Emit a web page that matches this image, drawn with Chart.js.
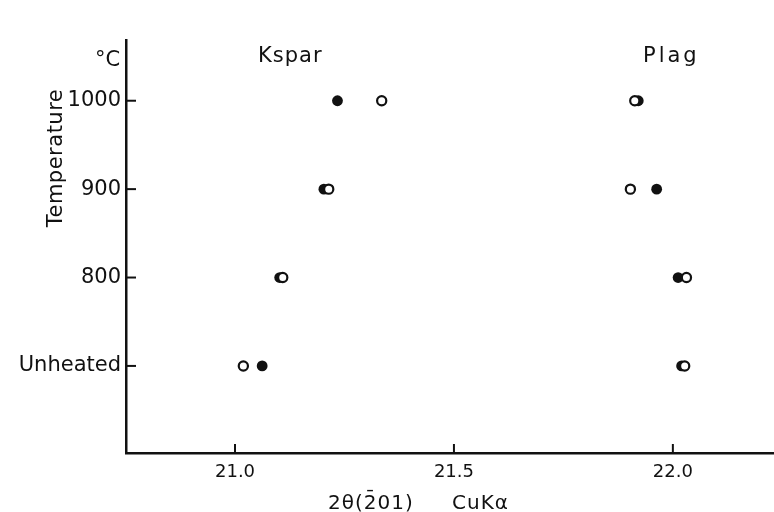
<!DOCTYPE html>
<html>
<head>
<meta charset="utf-8">
<script src="https://cdn.jsdelivr.net/npm/chart.js@4"></script>
<style>
  html, body { margin: 0; padding: 0; background: #fff; }
  #wrap { width: 774px; height: 512px; }
</style>
</head>
<body>
<div id="wrap"><canvas id="myChart" width="774" height="512"></canvas></div>
<script>
// temperature levels (700 stands for "Unheated")
var tempLevels = [1000, 900, 800, 700];
var tempLabels = ["1000", "900", "800", "Unheated"];
var xTicks = [21.0, 21.5, 22.0];

// 2θ(-201) positions, one per temperature level
var ksparFilled = [21.234, 21.203, 21.102, 21.062];
var ksparOpen   = [21.335, 21.214, 21.109, 21.019];
var plagFilled  = [21.921, 21.963, 22.012, 22.020];
var plagOpen    = [21.913, 21.903, 22.031, 22.027];

function toPoints(xs) {
    return xs.map(function (x, i) { return { x: x, y: tempLevels[i] }; });
}

var FONT = "'DejaVu Sans', sans-serif";

// draws the inward tick marks and the free text labels
var extras = {
    id: 'extras',
    afterDraw: function (chart) {
        var c = chart.ctx;
        var xs = chart.scales.x, ys = chart.scales.y;
        var a = chart.chartArea;
        c.save();
        c.strokeStyle = '#111';
        c.lineWidth = 2;
        tempLevels.forEach(function (v) {
            var p = ys.getPixelForValue(v);
            c.beginPath(); c.moveTo(a.left, p); c.lineTo(a.left + 10, p); c.stroke();
        });
        xTicks.forEach(function (v) {
            var p = xs.getPixelForValue(v);
            c.beginPath(); c.moveTo(p, a.bottom); c.lineTo(p, a.bottom - 9); c.stroke();
        });

        c.fillStyle = '#111';
        c.font = '21px ' + FONT;
        c.textBaseline = 'alphabetic';
        c.textAlign = 'left';
        c.fillText('°C', 95, 66);
        c.letterSpacing = '1px';
        c.fillText('Kspar', 258, 62);
        c.letterSpacing = '3px';
        c.fillText('Plag', 643, 62);

        c.font = '20px ' + FONT;
        c.letterSpacing = '1px';
        c.fillText('2θ(2\u0304' + '01)', 328, 509);
        c.fillText('CuKα', 452, 509);

        c.translate(57, 158);
        c.rotate(-Math.PI / 2);
        c.textAlign = 'center';
        c.textBaseline = 'middle';
        c.font = '21px ' + FONT;
        c.letterSpacing = '0.5px';
        c.fillText('Temperature', 0, 0);
        c.restore();
    }
};

new Chart(document.getElementById('myChart'), {
    type: 'scatter',
    data: {
        datasets: [
            {
                label: 'open',
                data: toPoints(ksparOpen).concat(toPoints(plagOpen)),
                pointRadius: 4.6,
                pointBackgroundColor: '#fff',
                pointBorderColor: '#111',
                pointBorderWidth: 2.2,
                order: 0
            },
            {
                label: 'filled',
                data: toPoints(ksparFilled).concat(toPoints(plagFilled)),
                pointRadius: 5.4,
                pointBackgroundColor: '#111',
                pointBorderWidth: 0,
                order: 1
            }
        ]
    },
    options: {
        responsive: false,
        animation: false,
        layout: { autoPadding: false, padding: { top: 40, left: 0, right: 0, bottom: 0 } },
        plugins: {
            legend: { display: false },
            tooltip: { enabled: false }
        },
        scales: {
            x: {
                type: 'linear',
                min: 20.751,
                max: 22.231,
                grid: { display: false, drawTicks: false },
                border: { display: true, color: '#111', width: 2.5 },
                afterBuildTicks: function (s) { s.ticks = xTicks.map(function (v) { return { value: v }; }); },
                afterFit: function (s) { s.height = 59; s.paddingLeft = 0; s.paddingRight = 0; },
                ticks: {
                    color: '#111',
                    padding: 9,
                    font: { family: FONT, size: 18 },
                    callback: function (v) { return Number(v).toFixed(1); }
                }
            },
            y: {
                type: 'linear',
                min: 601.5,
                max: 1068.7,
                grid: { display: false, drawTicks: false },
                border: { display: true, color: '#111', width: 2.5 },
                afterBuildTicks: function (s) { s.ticks = tempLevels.map(function (v) { return { value: v }; }); },
                afterFit: function (s) { s.width = 126; s.paddingTop = 0; s.paddingBottom = 0; },
                ticks: {
                    color: '#111',
                    padding: 5,
                    font: { family: FONT, size: 21 },
                    callback: function (v) {
                        var i = tempLevels.indexOf(v);
                        return i >= 0 ? tempLabels[i] : '';
                    }
                }
            }
        }
    },
    plugins: [extras]
});
</script>
</body>
</html>
